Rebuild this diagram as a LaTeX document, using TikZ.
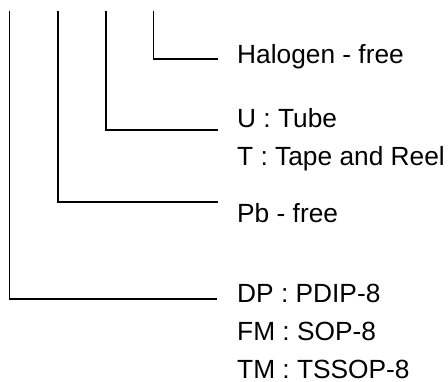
\documentclass[tikz,border=0pt]{standalone}
\usepackage{fontspec}
\setmainfont{Liberation Sans}
\begin{document}
\begin{tikzpicture}[x=1pt,y=-1pt,
  lbl/.style={anchor=base west, inner sep=0pt, font=\fontsize{26.3}{30}\selectfont},
  lead/.style={line width=1.6pt, line join=miter}]
\useasboundingbox (0,0) rectangle (448,381);
% labels
\node[lbl] (halo) at (237,63) {Halogen - free};
\node[lbl] (tube) at (237,127) {U : Tube};
\node[lbl] (tape) at (237,165) {T : Tape and Reel};
\node[lbl] (pb) at (237,222) {Pb - free};
\node[lbl] (dp) at (237,302) {DP : PDIP-8};
\node[lbl] (fm) at (237,340.5) {FM : SOP-8};
\node[lbl] (tm) at (237,378) {TM : TSSOP-8};
% leader lines
\coordinate (t1) at (153.5,11);
\coordinate (e1) at (218,59);
\coordinate (t2) at (106,11);
\coordinate (e2) at (218,130);
\coordinate (t3) at (58,11);
\coordinate (e3) at (218,202);
\coordinate (t4) at (9.5,11);
\coordinate (e4) at (217,299);
\draw[lead] (t1) |- (e1);
\draw[lead] (t2) |- (e2);
\draw[lead] (t3) |- (e3);
\draw[lead] (t4) |- (e4);
\end{tikzpicture}
\end{document}
